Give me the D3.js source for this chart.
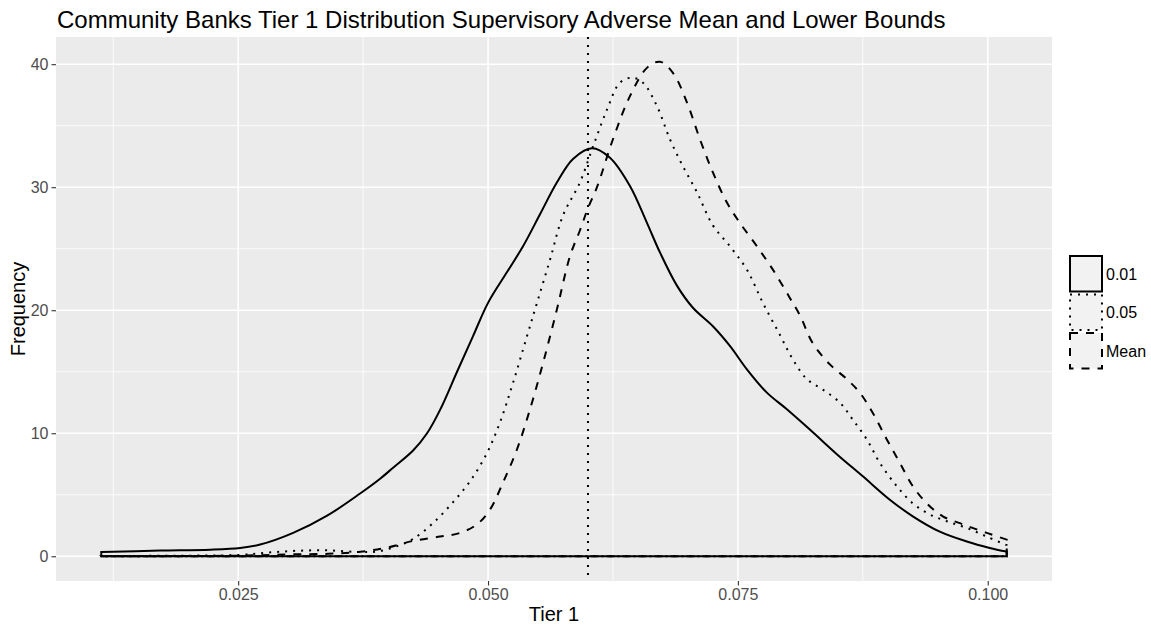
<!DOCTYPE html>
<html>
<head>
<meta charset="utf-8">
<script src="https://cdn.jsdelivr.net/npm/d3@7"></script>
<style>
  html, body { margin: 0; padding: 0; background: #ffffff; }
  svg { display: block; font-family: "Liberation Sans", Arial, Helvetica, sans-serif; }
</style>
</head>
<body>
<svg id="chart" width="1151" height="627"></svg>
<script>
// ---- Data ----
const seriesNames = ["0.01", "0.05", "Mean"];

const x001 = [0.0113, 0.0172, 0.0222, 0.0252, 0.0272, 0.0305, 0.0339, 0.0372, 0.0392, 0.0405, 0.0425, 0.0439, 0.0452, 0.0469, 0.0485, 0.0500, 0.0519, 0.0535, 0.0552, 0.0569, 0.0585, 0.0604, 0.0622, 0.0642, 0.0659, 0.0672, 0.0689, 0.0705, 0.0725, 0.0742, 0.0759, 0.0779, 0.0799, 0.0822, 0.0849, 0.0875, 0.0902, 0.0925, 0.0952, 0.0979, 0.1002, 0.1019];
const y001 = [0.35, 0.46, 0.54, 0.68, 0.95, 1.9, 3.3, 5.1, 6.3, 7.2, 8.6, 10.0, 11.9, 15.0, 17.9, 20.6, 23.1, 25.2, 27.8, 30.4, 32.3, 33.17, 32.4, 30.1, 27.1, 24.7, 22.0, 20.2, 18.7, 17.1, 15.2, 13.3, 11.95, 10.3, 8.3, 6.5, 4.6, 3.25, 2.0, 1.2, 0.68, 0.38];

const x005 = [0.0113, 0.0200, 0.0250, 0.0280, 0.0310, 0.0340, 0.0370, 0.0390, 0.0410, 0.0425, 0.0445, 0.0465, 0.0482, 0.0499, 0.0512, 0.0525, 0.0539, 0.0549, 0.0562, 0.0575, 0.0592, 0.0605, 0.0619, 0.0632, 0.0644, 0.0655, 0.0669, 0.0682, 0.0695, 0.0709, 0.0725, 0.0742, 0.0759, 0.0775, 0.0792, 0.0805, 0.0819, 0.0835, 0.0852, 0.0865, 0.0879, 0.0892, 0.0909, 0.0925, 0.0942, 0.0959, 0.0979, 0.0999, 0.1019];
const y005 = [0.02, 0.05, 0.1, 0.3, 0.45, 0.48, 0.35, 0.4, 0.85, 1.4, 2.7, 4.4, 6.1, 8.4, 10.9, 14.1, 17.9, 20.6, 24.1, 27.7, 30.4, 33.3, 36.3, 38.5, 38.9, 38.5, 36.6, 33.9, 31.7, 29.6, 26.9, 25.2, 23.3, 20.6, 18.0, 16.0, 14.4, 13.55, 12.5, 11.1, 9.5, 7.6, 5.7, 4.3, 3.4, 2.85, 2.3, 1.6, 0.9];

const xMean = [0.0113, 0.0250, 0.0300, 0.0340, 0.0370, 0.0399, 0.0425, 0.0452, 0.0472, 0.0489, 0.0502, 0.0515, 0.0529, 0.0542, 0.0555, 0.0569, 0.0582, 0.0592, 0.0600, 0.0609, 0.0625, 0.0642, 0.0659, 0.0672, 0.0685, 0.0699, 0.0712, 0.0725, 0.0739, 0.0752, 0.0769, 0.0785, 0.0802, 0.0812, 0.0825, 0.0842, 0.0859, 0.0872, 0.0885, 0.0899, 0.0912, 0.0925, 0.0939, 0.0955, 0.0975, 0.0999, 0.1019];
const yMean = [0.0, 0.05, 0.15, 0.2, 0.35, 0.7, 1.25, 1.6, 1.9, 2.6, 3.8, 6.0, 8.7, 11.95, 15.7, 20.1, 24.4, 26.5, 28.3, 30.0, 33.9, 37.4, 39.7, 40.2, 39.3, 36.9, 33.9, 31.2, 28.75, 27.1, 25.2, 23.3, 21.0, 19.6, 17.3, 15.6, 14.4, 13.3, 11.65, 9.5, 7.6, 5.7, 4.3, 3.25, 2.6, 1.9, 1.35];

const vlineX = 0.06;
const xTicks = [0.025, 0.050, 0.075, 0.100];
const xTickLabels = ["0.025", "0.050", "0.075", "0.100"];
const xMinor = [0.0125, 0.0375, 0.0625, 0.0875];
const yTicks = [0, 10, 20, 30, 40];
const yMinor = [5, 15, 25, 35];

const titleText = "Community Banks Tier 1 Distribution Supervisory Adverse Mean and Lower Bounds";
const xTitle = "Tier 1";
const yTitle = "Frequency";

// ---- Layout ----
const svg = d3.select("#chart");
const panel = { left: 56, right: 1052, top: 37, bottom: 581 };

const dataXMin = 0.0113, dataXMax = 0.1019;
const xPad = (dataXMax - dataXMin) * 0.05;
const x = d3.scaleLinear().domain([dataXMin - xPad, dataXMax + xPad]).range([panel.left, panel.right]);
const yMax = d3.max([...y001, ...y005, ...yMean]);
const y = d3.scaleLinear().domain([-0.05 * yMax, 1.05 * yMax]).range([panel.bottom, panel.top]);

// panel background
svg.append("rect")
  .attr("x", panel.left).attr("y", panel.top)
  .attr("width", panel.right - panel.left).attr("height", panel.bottom - panel.top)
  .attr("fill", "#EBEBEB");

const grid = svg.append("g");
grid.selectAll(".ymin").data(yMinor).join("line")
  .attr("x1", panel.left).attr("x2", panel.right)
  .attr("y1", d => y(d)).attr("y2", d => y(d))
  .attr("stroke", "#fff").attr("stroke-width", 0.8);
grid.selectAll(".xmin").data(xMinor).join("line")
  .attr("y1", panel.top).attr("y2", panel.bottom)
  .attr("x1", d => x(d)).attr("x2", d => x(d))
  .attr("stroke", "#fff").attr("stroke-width", 0.8);
grid.selectAll(".ymaj").data(yTicks).join("line")
  .attr("x1", panel.left).attr("x2", panel.right)
  .attr("y1", d => y(d)).attr("y2", d => y(d))
  .attr("stroke", "#fff").attr("stroke-width", 1.6);
grid.selectAll(".xmaj").data(xTicks).join("line")
  .attr("y1", panel.top).attr("y2", panel.bottom)
  .attr("x1", d => x(d)).attr("x2", d => x(d))
  .attr("stroke", "#fff").attr("stroke-width", 1.6);

// ---- Density outlines ----
const lw = 2;
const styles = {
  "0.01": null,
  "0.05": `${lw} ${3 * lw}`,
  "Mean": `${4 * lw} ${4 * lw}`
};
const series = [
  { name: "0.01", xs: x001, ys: y001 },
  { name: "0.05", xs: x005, ys: y005 },
  { name: "Mean", xs: xMean, ys: yMean }
];

const curveLine = d3.line().x(d => x(d[0])).y(d => y(d[1])).curve(d3.curveCatmullRom.alpha(0.5));

series.forEach(s => {
  const pts = s.xs.map((v, i) => [v, s.ys[i]]);
  const top = curveLine(pts);
  const xl = s.xs[0], xr = s.xs[s.xs.length - 1];
  const d = top + `L${x(xr)},${y(0)}L${x(xl)},${y(0)}Z`;
  svg.append("path")
    .attr("d", d)
    .attr("fill", "none")
    .attr("stroke", "#000")
    .attr("stroke-width", lw)
    .attr("stroke-linejoin", "miter")
    .attr("stroke-dasharray", styles[s.name]);
});

// vertical line
svg.append("line")
  .attr("x1", x(vlineX)).attr("x2", x(vlineX))
  .attr("y1", panel.top).attr("y2", panel.bottom)
  .attr("stroke", "#000").attr("stroke-width", lw)
  .attr("stroke-dasharray", `${lw} ${3 * lw}`);

// ---- Axes ----
const xAxis = d3.axisBottom(x).tickValues(xTicks).tickFormat((d, i) => xTickLabels[i]).tickSize(4.5).tickPadding(3);
const gx = svg.append("g").attr("transform", `translate(0,${panel.bottom})`).call(xAxis);
gx.select(".domain").remove();
gx.selectAll(".tick line").attr("stroke", "#333333").attr("stroke-width", 1.1);
gx.selectAll(".tick text").attr("fill", "#4D4D4D").attr("font-size", 16).attr("font-family", "Liberation Sans, Arial, sans-serif");

const yAxis = d3.axisLeft(y).tickValues(yTicks).tickFormat(d3.format("d")).tickSize(4.5).tickPadding(3);
const gy = svg.append("g").attr("transform", `translate(${panel.left},0)`).call(yAxis);
gy.select(".domain").remove();
gy.selectAll(".tick line").attr("stroke", "#333333").attr("stroke-width", 1.1);
gy.selectAll(".tick text").attr("fill", "#4D4D4D").attr("font-size", 16).attr("font-family", "Liberation Sans, Arial, sans-serif");

// titles
svg.append("text")
  .attr("x", panel.left + 1).attr("y", 28)
  .attr("font-size", 24).attr("fill", "#000")
  .text(titleText);

svg.append("text")
  .attr("x", (panel.left + panel.right) / 2).attr("y", 621)
  .attr("text-anchor", "middle").attr("font-size", 20).attr("fill", "#000")
  .text(xTitle);

svg.append("text")
  .attr("transform", `translate(25,${(panel.top + panel.bottom) / 2}) rotate(-90)`)
  .attr("text-anchor", "middle").attr("font-size", 20).attr("fill", "#000")
  .text(yTitle);

// ---- Legend ----
const legend = svg.append("g").attr("transform", "translate(1070,255)");
const keyH = 38.5, keyW = 32;
seriesNames.forEach((nm, i) => {
  const g = legend.append("g").attr("transform", `translate(0,${i * keyH})`);
  g.append("rect")
    .attr("x", 0).attr("y", 1).attr("width", keyW).attr("height", keyH - 3)
    .attr("fill", "#F2F2F2")
    .attr("stroke", "#000").attr("stroke-width", lw)
    .attr("stroke-dasharray", styles[nm]);
  g.append("text")
    .attr("x", keyW + 4).attr("y", keyH / 2)
    .attr("dy", "0.35em")
    .attr("font-size", 16).attr("fill", "#000")
    .text(nm);
});
</script>
</body>
</html>
